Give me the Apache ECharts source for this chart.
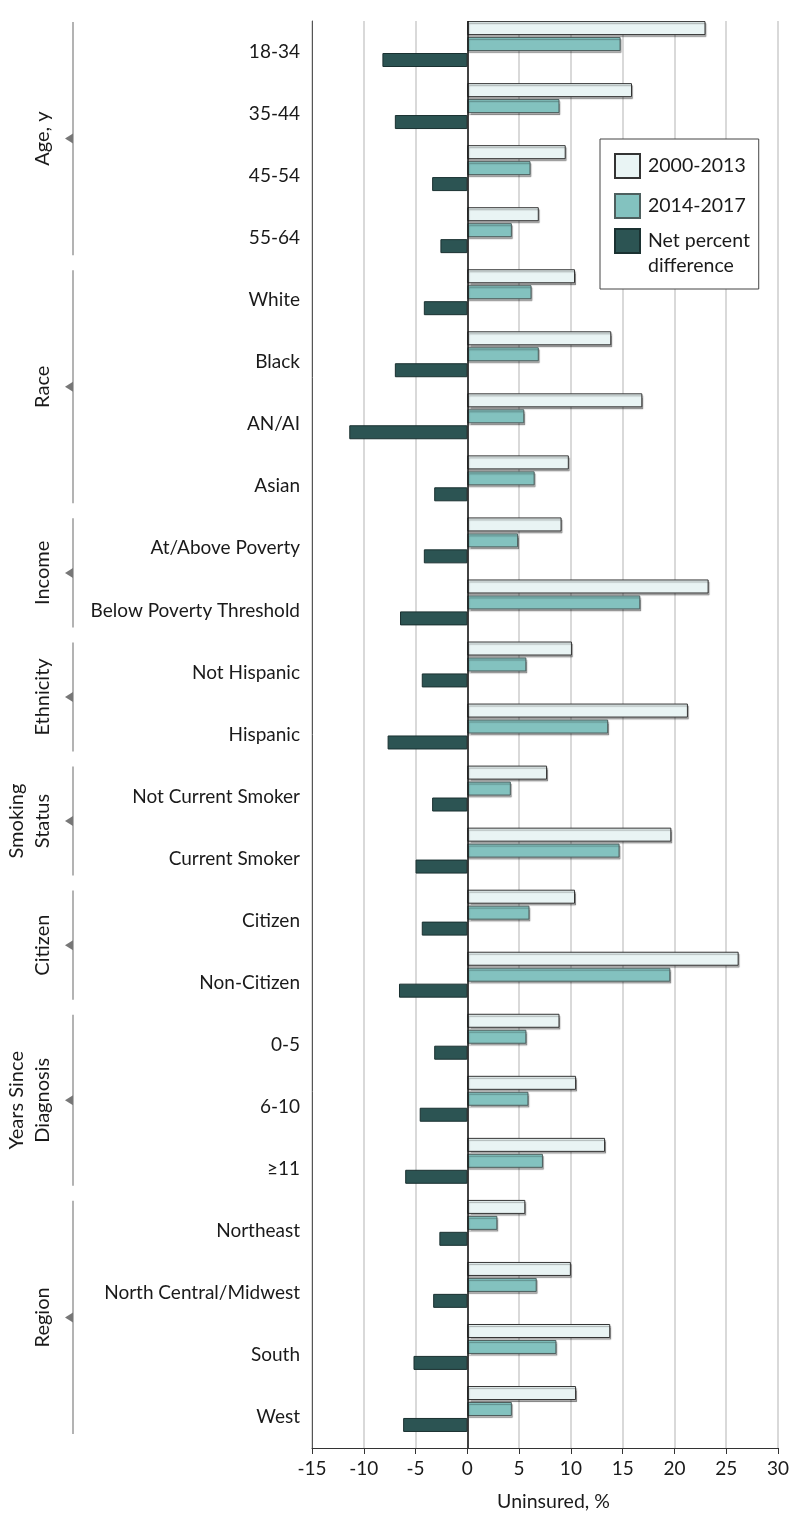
<!DOCTYPE html>
<html>
<head>
<meta charset="utf-8">
<script src="https://cdn.jsdelivr.net/npm/echarts@6/dist/echarts.min.js"></script>
<style>
  body { margin: 0; background: #fff; }
  #chart { width: 794px; height: 1532px; }
</style>
</head>
<body>
<div id="chart"></div>
<script>
const categories = [
  "18-34", "35-44", "45-54", "55-64",
  "White", "Black", "AN/AI", "Asian",
  "At/Above Poverty", "Below Poverty Threshold",
  "Not Hispanic", "Hispanic",
  "Not Current Smoker", "Current Smoker",
  "Citizen", "Non-Citizen",
  "0-5", "6-10", "≥11",
  "Northeast", "North Central/Midwest", "South", "West"
];
const groupNames = ["Age, y", "Race", "Income", "Ethnicity", "Smoking\nStatus", "Citizen", "Years Since\nDiagnosis", "Region"];
const groupSizes = [4, 4, 2, 2, 2, 2, 3, 4];

const early = [23.0, 15.9, 9.5, 6.9, 10.4, 13.9, 16.9, 9.8, 9.1, 23.3, 10.1, 21.3, 7.7, 19.7, 10.4, 26.2, 8.9, 10.5, 13.3, 5.6, 10.0, 13.8, 10.5];
const late = [14.8, 8.9, 6.1, 4.3, 6.2, 6.9, 5.5, 6.5, 4.9, 16.7, 5.7, 13.6, 4.2, 14.7, 6.0, 19.6, 5.7, 5.9, 7.3, 2.9, 6.7, 8.6, 4.3];
const net = [-8.2, -7.0, -3.4, -2.6, -4.2, -7.0, -11.4, -3.2, -4.2, -6.5, -4.4, -7.7, -3.4, -5.0, -4.4, -6.6, -3.2, -4.6, -6.0, -2.7, -3.3, -5.2, -6.2];

const seriesNames = ["2000-2013", "2014-2017", "Net percent difference"];
const xTicks = { min: -15, max: 30, step: 5 };

const FONT = "Lato";
const INK = "#1a1a1a";
const chart = echarts.init(document.getElementById("chart"), null, { renderer: "canvas" });

const barShadow = { shadowColor: "rgba(0,0,0,0.3)", shadowOffsetX: 1, shadowOffsetY: 2, shadowBlur: 1 };

chart.setOption({
  animation: false,
  textStyle: { fontFamily: FONT },
  grid: { left: 312, right: 16, top: 21, bottom: 84 },
  legend: [
    {
      data: seriesNames.slice(0, 2),
      orient: "vertical",
      left: 600,
      top: 139,
      padding: [14, 13, 70, 14],
      itemWidth: 25,
      itemHeight: 24,
      itemGap: 14,
      backgroundColor: "#fff",
      borderColor: "#444",
      borderWidth: 1,
      icon: "rect",
      textStyle: { fontFamily: FONT, fontSize: 19.5, color: INK, padding: [0, 0, 0, 3] }
    },
    {
      data: seriesNames.slice(2),
      orient: "vertical",
      left: 614,
      top: 203.5,
      padding: 0,
      z: 10,
      itemWidth: 25,
      itemHeight: 24,
      icon: "rect",
      formatter: function () { return "\nNet percent\ndifference"; },
      textStyle: { fontFamily: FONT, fontSize: 19.5, color: INK, lineHeight: 25, padding: [0, 0, 0, 3] }
    }
  ],
  xAxis: {
    type: "value",
    min: xTicks.min,
    max: xTicks.max,
    interval: xTicks.step,
    name: "Uninsured, %",
    nameLocation: "middle",
    nameGap: 44,
    nameTextStyle: { fontFamily: FONT, fontSize: 19.5, color: INK, padding: [0, 0, 0, 17] },
    axisLine: { show: true, lineStyle: { color: "#333", width: 1 } },
    axisTick: { show: true, length: 6, lineStyle: { color: "#333" } },
    axisLabel: { fontFamily: FONT, fontSize: 19, color: INK, margin: 11 },
    splitLine: { show: true, lineStyle: { color: "#d9d9d9", width: 2 } }
  },
  yAxis: {
    type: "category",
    data: categories,
    inverse: true,
    axisLine: { show: true, onZero: false, lineStyle: { color: "#555", width: 1 } },
    axisTick: { show: false },
    axisLabel: { fontFamily: FONT, fontSize: 19, color: INK, margin: 12 },
    splitLine: { show: false }
  },
  series: [
    {
      name: seriesNames[0],
      type: "bar",
      data: early,
      barWidth: 14,
      barGap: "14%",
      itemStyle: Object.assign({ color: "#e9f4f4", borderColor: "#333", borderWidth: 1 }, barShadow)
    },
    {
      name: seriesNames[1],
      type: "bar",
      data: late,
      barWidth: 14,
      barGap: "14%",
      itemStyle: Object.assign({ color: "#83c2bf", borderColor: "#4d5f5e", borderWidth: 1 }, barShadow)
    },
    {
      name: seriesNames[2],
      type: "bar",
      data: net,
      barWidth: 14,
      barGap: "14%",
      itemStyle: { color: "#2c5453", borderColor: "#1a3131", borderWidth: 1 },
      markLine: {
        silent: true,
        symbol: "none",
        label: { show: false },
        lineStyle: { color: "#111", type: "solid", width: 1.5 },
        data: [{ xAxis: 0 }]
      }
    },
    {
      // empty slot so each group sits at the top of its band
      name: "spacer",
      type: "bar",
      data: [],
      barWidth: 14,
      barGap: "14%"
    }
  ]
});

// group brackets and labels on the left
const c0 = chart.convertToPixel({ yAxisIndex: 0 }, 0);
const c1 = chart.convertToPixel({ yAxisIndex: 0 }, 1);
const band = c1 - c0;
const bracketX = 73;
const graphics = [];
let start = 0;
groupNames.forEach(function (name, g) {
  const y0 = c0 + (start - 0.5) * band;
  const y1 = c0 + (start + groupSizes[g] - 0.5) * band;
  const top = y0 + 1;
  const bottom = y1 - 14;
  const mid = (top + bottom) / 2;
  graphics.push({
    type: "line",
    silent: true,
    shape: { x1: bracketX, y1: top, x2: bracketX, y2: bottom },
    style: { stroke: "#9a9a9a", lineWidth: 1.5 }
  });
  graphics.push({
    type: "polygon",
    silent: true,
    shape: { points: [[bracketX, mid - 5], [bracketX, mid + 5], [bracketX - 8, mid]] },
    style: { fill: "#777" }
  });
  graphics.push({
    type: "text",
    silent: true,
    x: 56,
    y: mid,
    rotation: Math.PI / 2,
    style: {
      text: name,
      fontFamily: FONT,
      fontSize: 20,
      lineHeight: 26,
      fill: INK,
      align: "center",
      verticalAlign: "bottom"
    }
  });
  start += groupSizes[g];
});
chart.setOption({ graphic: graphics });
</script>
</body>
</html>
